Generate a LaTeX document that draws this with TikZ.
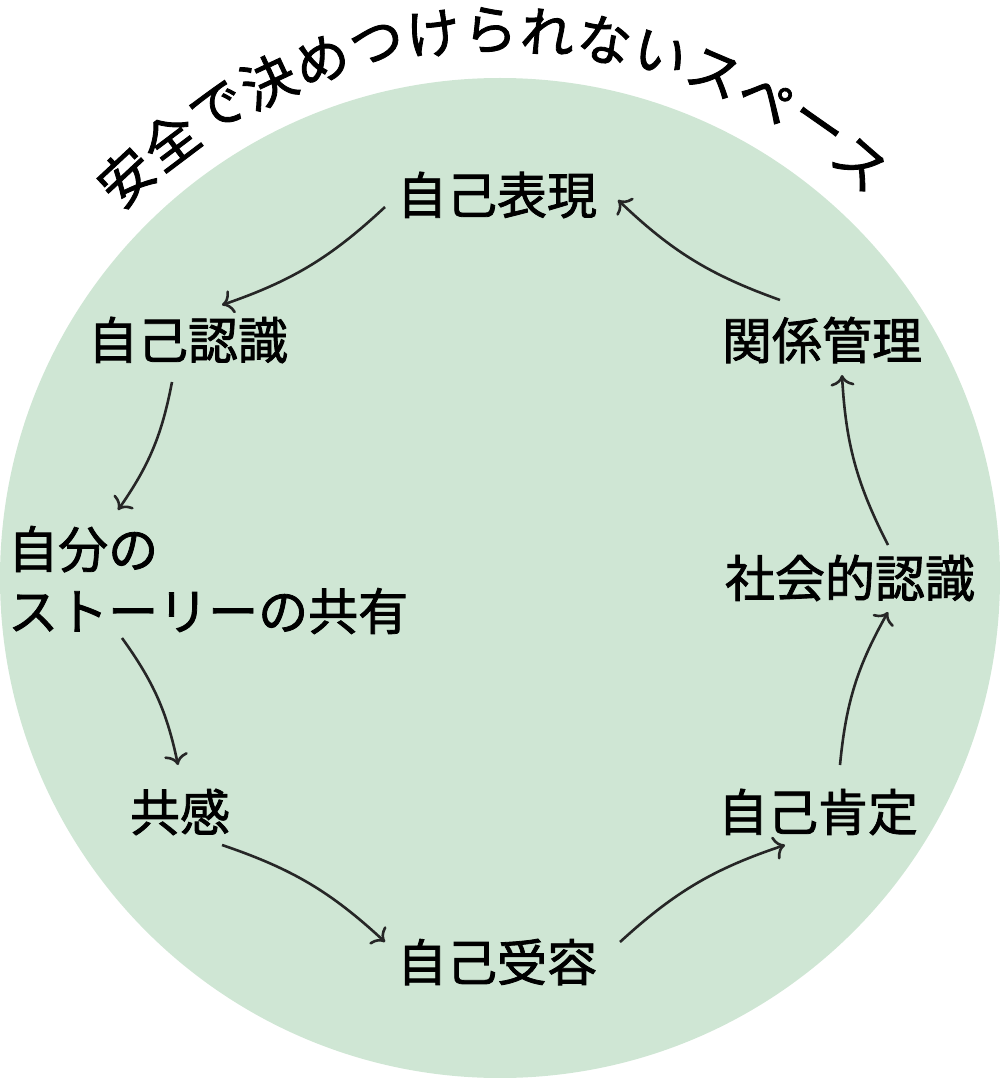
\documentclass[tikz,border=0pt]{standalone}
\usepackage{fontspec}
\usetikzlibrary{calc,arrows.meta}
\newfontfamily\jp[FakeBold=1.6]{Noto Sans CJK JP}
\begin{document}
\begin{tikzpicture}[x=1pt,y=-1pt,
  lbl/.style={font=\jp\fontsize{50}{62}\selectfont, text=black, inner sep=0pt},
  arr/.style={draw=black!85, line width=2.6pt, -{To[length=11pt,width=24pt]}}]
\useasboundingbox (0,0) rectangle (1000,1078);
\fill[fill={rgb,255:red,207;green,230;blue,212}] (500,578) circle (500);
\foreach \c [count=\i from 0] in {安,全,で,決,め,つ,け,ら,れ,な,い,ス,ペ,ー,ス}{
  \pgfmathsetmacro\a{133-\i*6.0}
  \node[font=\jp\fontsize{54}{60}\selectfont, rotate=\a-90, inner sep=0pt] (t\i) at ($(500,578)+(-\a:548)$) {\c};
}
\node[lbl] (a) at (497,195) {自己表現};
\node[lbl] (b) at (188,340) {自己認識};
\node[lbl, align=left, anchor=west] (c) at (8,580) {自分の\\ストーリーの共有};
\node[lbl] (d) at (180,812) {共感};
\node[lbl] (e) at (497,962) {自己受容};
\node[lbl] (f) at (818,812) {自己肯定};
\node[lbl] (g) at (850,578) {社会的認識};
\node[lbl] (h) at (822,340) {関係管理};
\coordinate (a1) at (385,207); \coordinate (b1) at (222,305);
\coordinate (b2) at (172,382); \coordinate (c1) at (118,510);
\coordinate (c2) at (122,638); \coordinate (d1) at (178,765);
\coordinate (d2) at (222,845); \coordinate (e1) at (385,942);
\coordinate (e2) at (620,942); \coordinate (f1) at (785,845);
\coordinate (f2) at (840,765); \coordinate (g1) at (888,612);
\coordinate (g2) at (888,545); \coordinate (h1) at (842,375);
\coordinate (h2) at (780,300); \coordinate (a2) at (618,200);
\draw[arr] (a1) to[bend left=12] (b1);
\draw[arr] (b2) to[bend left=12] (c1);
\draw[arr] (c2) to[bend left=12] (d1);
\draw[arr] (d2) to[bend left=12] (e1);
\draw[arr] (e2) to[bend left=12] (f1);
\draw[arr] (f2) to[bend left=12] (g1);
\draw[arr] (g2) to[bend left=12] (h1);
\draw[arr] (h2) to[bend left=12] (a2);
\end{tikzpicture}
\end{document}
